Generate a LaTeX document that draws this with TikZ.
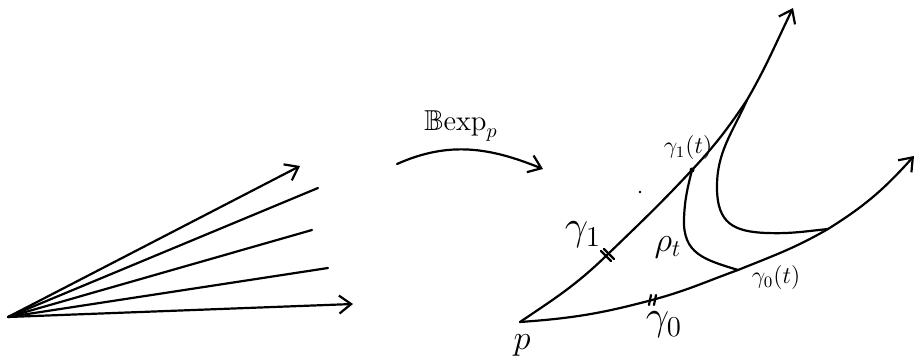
\documentclass[tikz,border=0pt]{standalone}
\usepackage{amsmath,amssymb}
\usetikzlibrary{arrows.meta}

\begin{document}
\begin{tikzpicture}[x=0.5pt,y=0.5pt,
  trait/.style={line width=1.1pt,line cap=round,line join=round},
  fl/.style={trait,-{Straight Barb[length=6pt,width=9pt]}},
  lab/.style={inner sep=1pt}
]
\useasboundingbox (0,0) rectangle (917,359);
% faisceau de vecteurs
\coordinate (o) at (8,42);
\coordinate (r1) at (300,193);
\coordinate (r2) at (318,171);
\coordinate (r3) at (312,129);
\coordinate (r4) at (328,91);
\coordinate (r5) at (353,55);
\draw[fl] (o) -- (r1);
\draw[trait] (o) -- (r2);
\draw[trait] (o) -- (r3);
\draw[trait] (o) -- (r4);
\draw[fl] (o) -- (r5);
% fleche Bexp
\coordinate (b0) at (397,195);
\coordinate (b2) at (543,190);
\draw[fl] (b0) to[out=24,in=158] (b2);
\node[lab,font=\Large] (bexp) at (461,233) {$\mathbb{B}\mathrm{exp}_p$};
% geodesiques
\coordinate (p) at (520,37);
\coordinate (k1) at (606,103);
\coordinate (g1t) at (692,189);
\coordinate (a1) at (747,259);
\coordinate (e1) at (793,351);
\coordinate (k0) at (652,59);
\coordinate (g0t) at (738,89);
\coordinate (a0) at (828,130);
\coordinate (e0) at (914,203);
\draw[fl] (p) to[out=34,in=224] (k1) to[out=44,in=227] (g1t)
  to[out=47,in=236] (a1) to[out=60,in=244] (e1);
\draw[fl] (p) to[out=4,in=195] (k0) to[out=15,in=200] (g0t)
  to[out=22,in=210] (a0) to[out=32,in=228] (e0);
% petites marques
\draw[trait] ([shift={(-5,5)}]k1) -- ([shift={(5,-5)}]k1);
\draw[trait] ([shift={(-2,7)}]k1) -- ([shift={(8,-3)}]k1);
\draw[trait] ([shift={(-3,-5)}]k0) -- ([shift={(-1,5)}]k0);
\draw[trait] ([shift={(2,-5)}]k0) -- ([shift={(4,5)}]k0);
% courbes rho
\coordinate (m0) at (684,140);
\draw[trait] (g1t) to[out=256,in=88] (m0) to[out=268,in=163,looseness=1.2] (g0t);
\coordinate (m1) at (717,170);
\coordinate (m2) at (767,126);
\draw[trait] (a1) to[out=246,in=91] (m1) to[out=271,in=178,looseness=1.3] (m2)
  to[out=-2,in=186] (a0);
\fill (g1t) circle (2.5);
\coordinate (pt) at (640,167);
\fill (pt) circle (1.3);
% etiquettes
\node[lab,font=\huge] (lg1) at (583,124) {$\gamma_1$};
\node[lab,font=\large] (lg1t) at (688,211) {$\gamma_1(t)$};
\node[lab,font=\LARGE] (lrho) at (668,112) {$\rho_t$};
\node[lab,font=\large] (lg0t) at (776,81) {$\gamma_0(t)$};
\node[lab,font=\huge] (lg0) at (664,34) {$\gamma_0$};
\node[lab,font=\LARGE] (lp) at (522,14) {$p$};
\end{tikzpicture}
\end{document}
